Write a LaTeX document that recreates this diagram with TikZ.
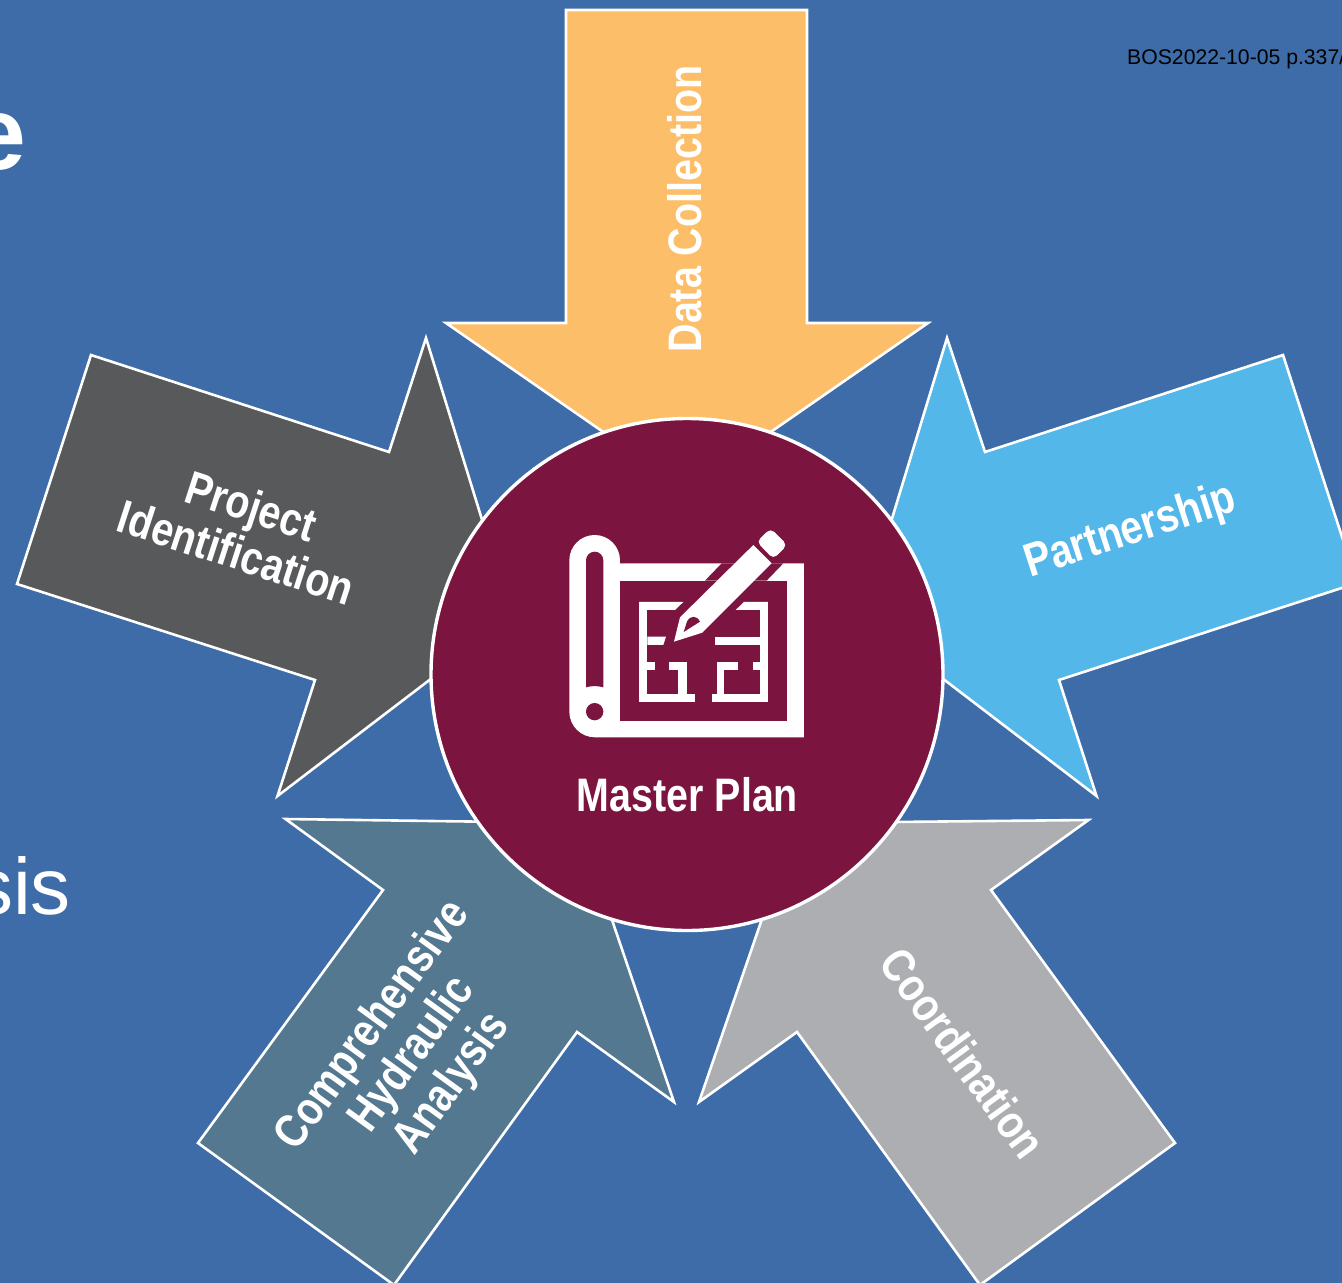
\documentclass[tikz,border=0pt]{standalone}
\usepackage{fontspec}
\setmainfont{Liberation Sans}
\newfontfamily\narrowfont[FakeStretch=0.838]{Liberation Sans}
\definecolor{bgblue}{HTML}{3E6CA8}
\definecolor{arrowyellow}{HTML}{FDBE69}
\definecolor{arrowdark}{HTML}{58595B}
\definecolor{arrowsky}{HTML}{54B7EA}
\definecolor{arrowsteel}{HTML}{537890}
\definecolor{arrowlight}{HTML}{ADAEB1}
\definecolor{hubmaroon}{HTML}{7B143F}
\tikzset{
  petal/.style={draw=white,line width=2.6pt,line join=miter,miter limit=20},
  lbl/.style={text=white,inner sep=0pt,align=center,font=\narrowfont\bfseries\fontsize{47}{49}\selectfont},
  iconw/.style={fill=white,draw=none},
  iconm/.style={fill=hubmaroon,draw=none}
}
\begin{document}
\begin{tikzpicture}[x=1pt,y=-1pt]
\useasboundingbox (0,0) rectangle (1342,1283);
\fill[bgblue] (0,0) rectangle (1342,1283);
\clip (0,0) rectangle (1342,1283);
% side texts
\node[anchor=base east,inner sep=0pt,text=white,font=\bfseries\fontsize{104}{104}\selectfont] (titlefrag) at (27,169) {e};
\node[anchor=base east,inner sep=0pt,text=white,font=\fontsize{80}{80}\selectfont] (bodyfrag) at (71,914) {sis};
\node[anchor=base west,inner sep=0pt,text=black,font=\fontsize{21.2}{24}\selectfont] (stamp) at (1127,64) {BOS2022-10-05 p.337/};
% arrows
\filldraw[petal,fill=arrowyellow] (566,10)--(807,10)--(807,323)--(928,323)--(687,490)--(446,323)--(566,323)--cycle;
\filldraw[petal,fill=arrowsky] (947,338)--(985,452)--(1283,355)--(1357,583)--(1059,680)--(1096.5,796)--(862,617)--cycle;
\filldraw[petal,fill=arrowdark] (426,338)--(389,452)--(91,355)--(17,584)--(315,680)--(277.5,796)--(512,617)--cycle;
\filldraw[petal,fill=arrowlight] (1088.5,820)--(991,890)--(1175,1143)--(980,1285)--(797,1032)--(699,1102)--(795,823)--cycle;
\filldraw[petal,fill=arrowsteel] (285.5,819)--(383,890)--(198,1143)--(394,1285)--(577,1032)--(674,1102)--(579,823)--cycle;
% hub
\node[circle,draw=white,line width=3.4pt,fill=hubmaroon,minimum size=512pt,inner sep=0pt] (hub) at (687,674.5) {};
% icon, in coordinates of a 3x crop
\begin{scope}[shift={(540,510)},x=0.3333pt,y=-0.3333pt]
  \fill[iconw] (88,151) arc[start angle=180,end angle=360,radius=76] -- (240,160) -- (792,160) -- (792,682) -- (165,682) arc[start angle=90,end angle=180,radius=77] -- cycle;
  \fill[iconm] (240,212) rectangle (741,632);
  \fill[iconm] (138,151) arc[start angle=180,end angle=360,radius=26] -- (190,532) .. controls (172,527) and (156,527) .. (138,532) -- cycle;
  \fill[iconm] (164,605) circle[radius=26];
  \fill[iconm] (545,160) -- (730,160) -- (680,212) -- (495,212) -- cycle;
  % floor plan, left room
  \fill[iconw] (298,276) -- (430,276) -- (405,300) -- (298,300) -- cycle;
  \fill[iconw] (298,276) rectangle (322,576);
  \fill[iconw] (322,380) -- (378,380) -- (370,405) -- (322,405) -- cycle;
  \fill[iconw] (322,455) rectangle (345,480);
  \fill[iconw] (298,552) rectangle (465,576);
  \fill[iconw] (415,455) rectangle (440,552);
  \fill[iconw] (388,455) rectangle (440,480);
  % floor plan, right room
  \fill[iconw] (612,276) -- (684,276) -- (684,300) -- (587,300) -- cycle;
  \fill[iconw] (660,276) rectangle (684,576);
  \fill[iconw] (526,380) rectangle (660,405);
  \fill[iconw] (638,455) rectangle (660,480);
  \fill[iconw] (517,552) rectangle (684,576);
  \fill[iconw] (530,455) rectangle (553,552);
  \fill[iconw] (530,455) rectangle (595,480);
  % pencil
  \fill[iconw] (402,395) -- (420,322) -- (640,105) -- (695,160) -- (487,368) -- cycle;
  \fill[iconw,rounded corners=5pt] (650,95) -- (692,55) -- (742,105) -- (700,147) -- cycle;
  \fill[iconm] (431,366) -- (441,335) .. controls (450,316) and (470,315) .. (480,335) -- cycle;
\end{scope}
% labels
\node[lbl] (masterlabel) at (687.5,795) {Master Plan};
\node[lbl,rotate=90] (datalabel) at (685,209) {Data Collection};
\node[lbl,rotate=18] (partnerlabel) at (1130.5,532) {Partnership};
\node[lbl,rotate=-18] (projectlabel) at (244,529) {Project\\Identification};
\node[lbl,rotate=-54] (coordlabel) at (963,1053) {Coordination};
\node[lbl,rotate=54] (hydrolabel) at (413,1055) {Comprehensive\\Hydraulic\\Analysis};
\end{tikzpicture}
\end{document}
